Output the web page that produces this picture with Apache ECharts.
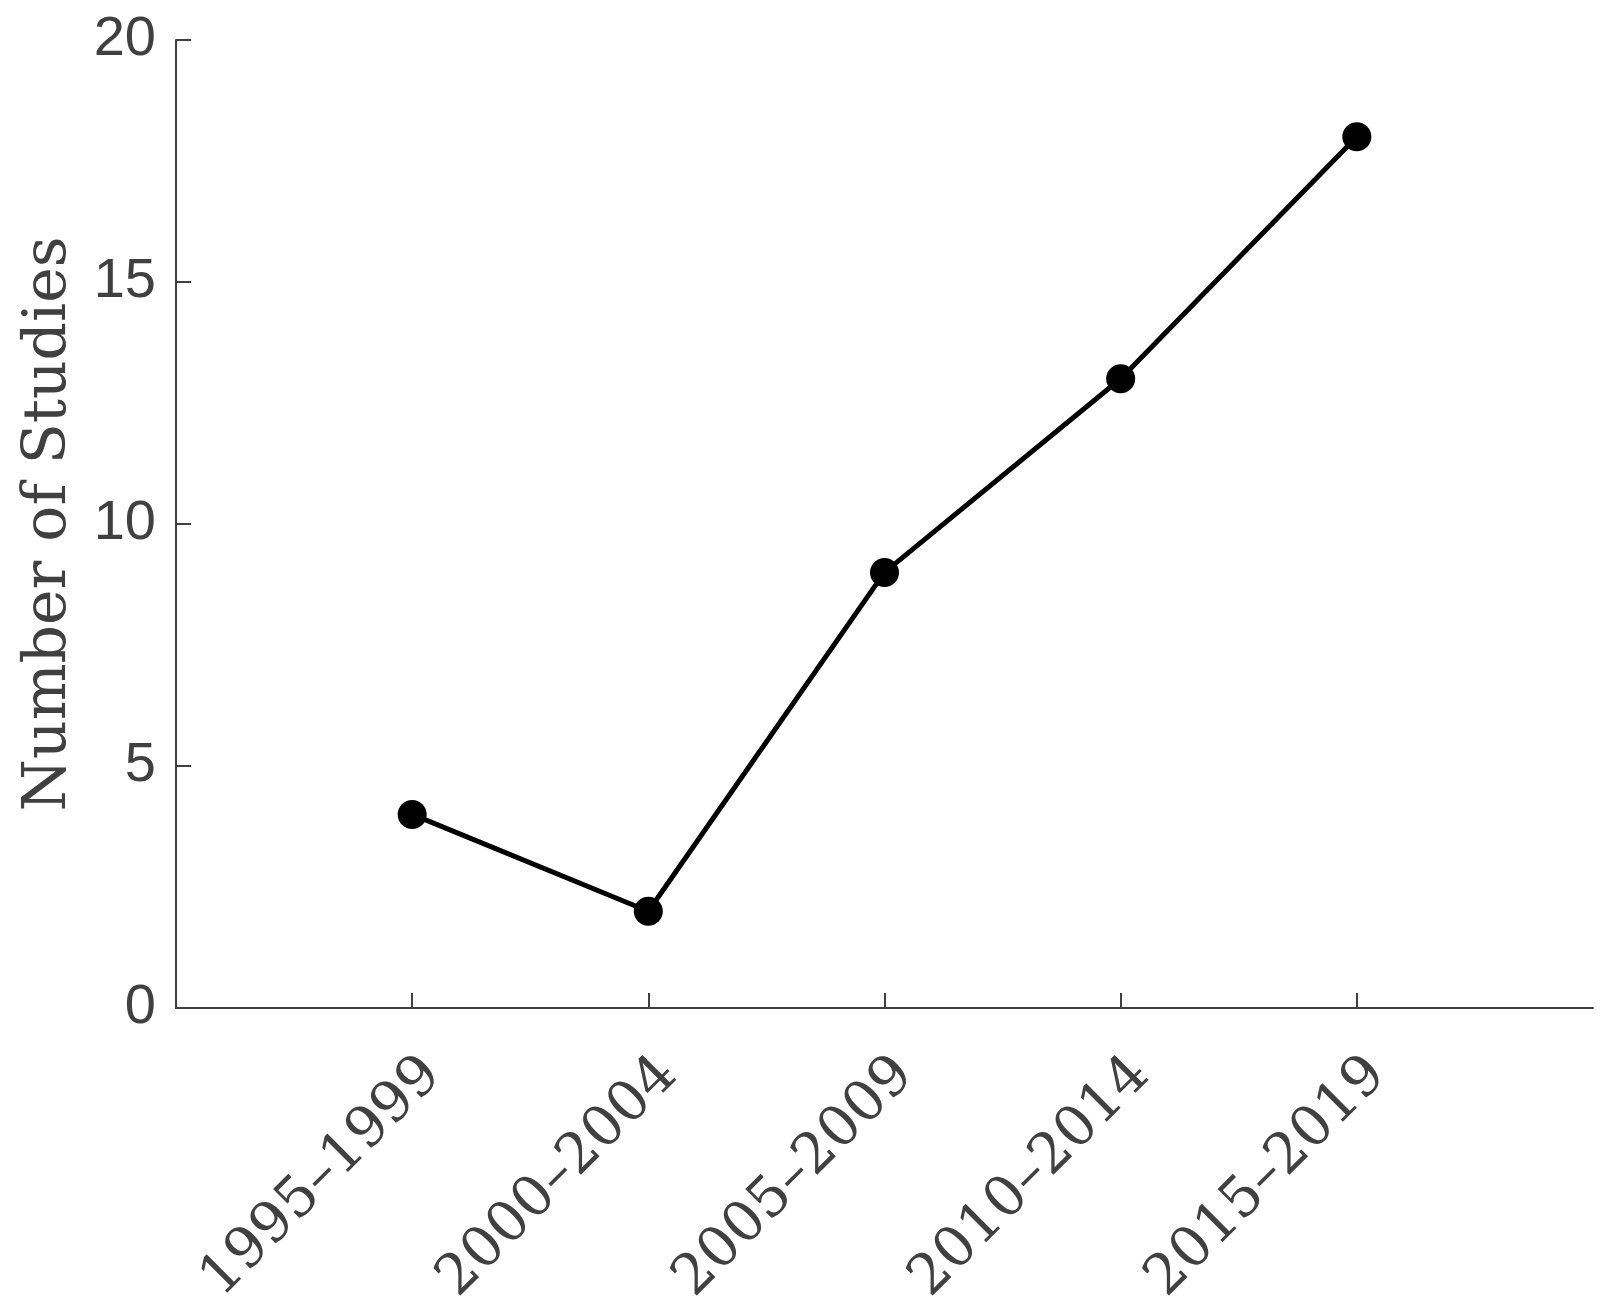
<!DOCTYPE html>
<html>
<head>
<meta charset="utf-8">
<script src="https://cdn.jsdelivr.net/npm/echarts@6/dist/echarts.min.js"></script>
<style>
  html, body { margin: 0; padding: 0; background: #fff; }
  #chart { width: 1612px; height: 1314px; }
</style>
</head>
<body>
<div id="chart"></div>
<script>
// 数据
const categories = ["1995–1999", "2000–2004", "2005–2009", "2010–2014", "2015–2019"];
const studyCounts = [4, 2, 9, 13, 18];
const yTicks = [0, 5, 10, 15, 20];

const axisColor = "#404040";
const positions = categories.map((c, i) => i + 1);

const chart = echarts.init(document.getElementById("chart"));
const option = {
  animation: false,
  backgroundColor: "#fff",
  grid: {
    left: 176,
    top: 40,
    right: 19,
    bottom: 306,
    outerBoundsMode: "none"
  },
  xAxis: {
    type: "value",
    min: 0,
    max: categories.length + 1,
    interval: 1,
    splitLine: { show: false },
    axisLine: {
      show: true,
      onZero: false,
      lineStyle: { color: axisColor, width: 2 }
    },
    axisTick: {
      show: true,
      inside: true,
      length: 15,
      customValues: positions,
      lineStyle: { color: axisColor, width: 2 }
    },
    axisLabel: {
      customValues: positions,
      rotate: 45,
      margin: 38,
      verticalAlign: "top",
      lineHeight: 58,
      color: axisColor,
      fontFamily: "DejaVu Serif",
      fontSize: 56,
      formatter: v => categories[v - 1] || ""
    }
  },
  yAxis: {
    type: "value",
    min: yTicks[0],
    max: yTicks[yTicks.length - 1],
    interval: 5,
    name: "Number of Studies",
    nameLocation: "middle",
    nameGap: 97,
    nameMoveOverlap: false,
    nameTextStyle: {
      color: axisColor,
      fontFamily: "DejaVu Serif",
      fontSize: 60,
      verticalAlign: "bottom"
    },
    splitLine: { show: false },
    axisLine: {
      show: true,
      lineStyle: { color: axisColor, width: 2 }
    },
    axisTick: {
      show: true,
      inside: true,
      length: 15,
      lineStyle: { color: axisColor, width: 2 }
    },
    axisLabel: {
      margin: 20,
      color: axisColor,
      fontFamily: "Liberation Sans",
      fontSize: 56
    }
  },
  series: [
    {
      type: "line",
      data: categories.map((c, i) => [i + 1, studyCounts[i]]),
      symbol: "circle",
      symbolSize: 29,
      lineStyle: { color: "#000", width: 5 },
      itemStyle: { color: "#000" }
    }
  ]
};
chart.setOption(option);
</script>
</body>
</html>
